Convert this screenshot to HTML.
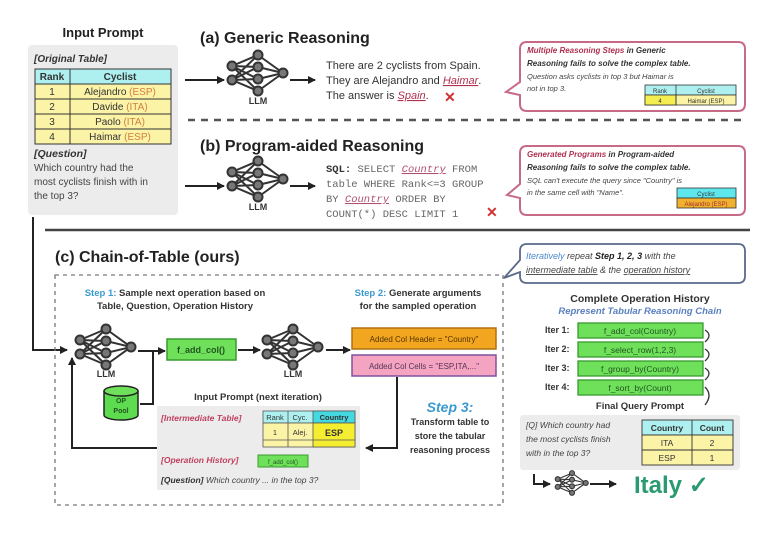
<!DOCTYPE html>
<html><head><meta charset="utf-8"><style>
html,body{margin:0;padding:0;background:#fff;}
svg{display:block;font-family:"Liberation Sans",sans-serif;}
</style></head><body>
<svg width="784" height="537" viewBox="0 0 784 537" xmlns="http://www.w3.org/2000/svg">
<defs>
<marker id="ar" markerWidth="8" markerHeight="8" refX="7" refY="4" orient="auto" markerUnits="userSpaceOnUse"><path d="M0,0 L8,4 L0,8 z" fill="#222"/></marker>
<g id="llm" stroke="#333" stroke-width="2" fill="none">
<path d="M-26,-7 L0,-18 M-26,-7 L0,-6 M-26,-7 L0,6 M-26,-7 L0,18 M-26,7 L0,-18 M-26,7 L0,-6 M-26,7 L0,6 M-26,7 L0,18 M0,-18 L25,0 M0,-6 L25,0 M0,6 L25,0 M0,18 L25,0"/>
<g fill="#777"><circle cx="-26" cy="-7" r="4.5"/><circle cx="-26" cy="7" r="4.5"/><circle cx="0" cy="-18" r="4.5"/><circle cx="0" cy="-6" r="4.5"/><circle cx="0" cy="6" r="4.5"/><circle cx="0" cy="18" r="4.5"/><circle cx="25" cy="0" r="4.5"/></g>
</g>
</defs>

<!-- Input prompt -->
<text x="103" y="37" font-size="13" font-weight="bold" text-anchor="middle" fill="#222">Input Prompt</text>
<rect x="28" y="45" width="150" height="170" rx="4" fill="#ececec"/>
<text x="34" y="62" font-size="10" font-weight="bold" font-style="italic" fill="#333">[Original Table]</text>
<g stroke="#333" stroke-width="1">
<rect x="35" y="69" width="136" height="15" fill="#aef0f0"/>
<rect x="35" y="84" width="136" height="60" fill="#fbf3a6"/>
<line x1="70" y1="69" x2="70" y2="144"/>
<line x1="35" y1="99" x2="171" y2="99"/><line x1="35" y1="114" x2="171" y2="114"/><line x1="35" y1="129" x2="171" y2="129"/>
</g>
<g font-size="10" text-anchor="middle" fill="#333">
<text x="52" y="80" font-weight="bold">Rank</text><text x="120" y="80" font-weight="bold">Cyclist</text>
<text x="52" y="95">1</text><text x="120" y="95">Alejandro <tspan fill="#d08040">(ESP)</tspan></text>
<text x="52" y="110">2</text><text x="120" y="110">Davide <tspan fill="#d08040">(ITA)</tspan></text>
<text x="52" y="125">3</text><text x="120" y="125">Paolo <tspan fill="#d08040">(ITA)</tspan></text>
<text x="52" y="140">4</text><text x="120" y="140">Haimar <tspan fill="#d08040">(ESP)</tspan></text>
</g>
<text x="34" y="157" font-size="10.5" font-weight="bold" font-style="italic" fill="#333">[Question]</text>
<g font-size="10" fill="#444"><text x="34" y="171">Which country had the</text><text x="34" y="185">most cyclists finish with in</text><text x="34" y="199">the top 3?</text></g>

<!-- (a) -->
<text x="200" y="43" font-size="16" font-weight="bold" fill="#222">(a) Generic Reasoning</text>
<line x1="185" y1="80" x2="224" y2="80" stroke="#222" stroke-width="2" marker-end="url(#ar)"/>
<use href="#llm" x="258" y="73"/>
<text x="258" y="104" font-size="9" font-weight="bold" text-anchor="middle" fill="#333">LLM</text>
<line x1="290" y1="80" x2="315" y2="80" stroke="#222" stroke-width="2" marker-end="url(#ar)"/>
<g font-size="11" fill="#333"><text x="326" y="69">There are 2 cyclists from Spain.</text><text x="326" y="84">They are Alejandro and <tspan fill="#b03050" text-decoration="underline" font-style="italic">Haimar</tspan>.</text><text x="326" y="99">The answer is <tspan fill="#b03050" text-decoration="underline" font-style="italic">Spain</tspan>.</text></g>
<text x="444" y="102" font-size="14" font-weight="bold" fill="#d03030">✕</text>
<path d="M527,42 H738 Q745,42 745,49 V104 Q745,111 738,111 H527 Q520,111 520,104 V95 L506,92 L520,82 V49 Q520,42 527,42 Z" fill="#fff" stroke="#c76a86" stroke-width="2"/>
<g font-size="8" font-style="italic" font-weight="bold"><text x="527" y="53"><tspan fill="#b03050">Multiple Reasoning Steps</tspan> <tspan fill="#333">in Generic</tspan></text><text x="527" y="66" fill="#333">Reasoning fails to solve the complex table.</text></g>
<g font-size="7.5" font-style="italic" fill="#444"><text x="527" y="79">Question asks cyclists in top 3 but Haimar is</text><text x="527" y="91">not in top 3.</text></g>
<g stroke="#333" stroke-width="0.8"><rect x="645" y="85" width="91" height="10" fill="#aef0f0"/><rect x="645" y="95" width="91" height="10" fill="#fbf3a6"/><rect x="645" y="95" width="31" height="10" fill="#f5ee50"/><line x1="676" y1="85" x2="676" y2="105"/></g>
<g font-size="6" text-anchor="middle" fill="#333"><text x="660" y="93">Rank</text><text x="706" y="93">Cyclist</text><text x="660" y="103">4</text><text x="706" y="103">Haimar (ESP)</text></g>

<line x1="188" y1="120" x2="745" y2="120" stroke="#555" stroke-width="2.5" stroke-dasharray="7,6"/>

<!-- (b) -->
<text x="200" y="151" font-size="16" font-weight="bold" fill="#222">(b) Program-aided Reasoning</text>
<line x1="185" y1="186" x2="224" y2="186" stroke="#222" stroke-width="2" marker-end="url(#ar)"/>
<use href="#llm" x="258" y="179"/>
<text x="258" y="210" font-size="9" font-weight="bold" text-anchor="middle" fill="#333">LLM</text>
<line x1="290" y1="186" x2="315" y2="186" stroke="#222" stroke-width="2" marker-end="url(#ar)"/>
<g font-family="Liberation Mono,monospace" font-size="10.5" fill="#666"><text x="326" y="172"><tspan font-weight="bold" fill="#333">SQL:</tspan> SELECT <tspan fill="#b05070" text-decoration="underline" font-style="italic">Country</tspan> FROM</text><text x="326" y="187">table WHERE Rank&lt;=3 GROUP</text><text x="326" y="202">BY <tspan fill="#b05070" text-decoration="underline" font-style="italic">Country</tspan> ORDER BY</text><text x="326" y="217">COUNT(*) DESC LIMIT 1</text></g>
<text x="486" y="217" font-size="14" font-weight="bold" fill="#d03030">✕</text>
<path d="M527,146 H738 Q745,146 745,153 V208 Q745,215 738,215 H527 Q520,215 520,208 V198 L507,195 L520,184 V153 Q520,146 527,146 Z" fill="#fff" stroke="#c76a86" stroke-width="2"/>
<g font-size="8" font-style="italic" font-weight="bold"><text x="527" y="157"><tspan fill="#b03050">Generated Programs</tspan> <tspan fill="#333">in Program-aided</tspan></text><text x="527" y="170" fill="#333">Reasoning fails to solve the complex table.</text></g>
<g font-size="7.5" font-style="italic" fill="#444"><text x="527" y="183">SQL can't execute the query since "Country" is</text><text x="527" y="195">in the same cell with "Name".</text></g>
<g stroke="#333" stroke-width="0.8"><rect x="677" y="188" width="59" height="10" fill="#5ee8ee"/><rect x="677" y="198" width="59" height="10" fill="#f0b030"/></g>
<g font-size="6" text-anchor="middle" fill="#333"><text x="706" y="196">Cyclist</text><text x="706" y="206" fill="#a03030">Alejandro (ESP)</text></g>

<line x1="45" y1="230" x2="750" y2="230" stroke="#444" stroke-width="2.5"/>
<path d="M33,217 V350 H67" fill="none" stroke="#222" stroke-width="2" marker-end="url(#ar)"/>

<!-- (c) -->
<text x="55" y="262" font-size="16" font-weight="bold" fill="#222">(c) Chain-of-Table (ours)</text>
<rect x="55" y="275" width="448" height="230" fill="none" stroke="#777" stroke-width="1.3" stroke-dasharray="4,4"/>
<g font-size="9.5" font-weight="bold" fill="#333" text-anchor="middle"><text x="175" y="296"><tspan fill="#3a9ad0">Step 1:</tspan> Sample next operation based on</text><text x="175" y="309">Table, Question, Operation History</text>
<text x="418" y="296"><tspan fill="#3a9ad0">Step 2:</tspan> Generate arguments</text><text x="418" y="309">for the sampled operation</text></g>
<use href="#llm" x="106" y="347"/>
<text x="106" y="377" font-size="9" font-weight="bold" text-anchor="middle" fill="#333">LLM</text>
<path d="M138,351 H165" stroke="#222" stroke-width="2" fill="none" marker-end="url(#ar)"/>
<path d="M140,404 H153 V351" stroke="#222" stroke-width="2" fill="none"/>
<rect x="167" y="339" width="69" height="21" fill="#6ee05a" stroke="#3a9a30" stroke-width="1.5"/>
<text x="201" y="353" font-size="9" font-weight="bold" text-anchor="middle" fill="#225522">f_add_col()</text>
<line x1="238" y1="350" x2="260" y2="350" stroke="#222" stroke-width="2" marker-end="url(#ar)"/>
<use href="#llm" x="293" y="347"/>
<text x="293" y="377" font-size="9" font-weight="bold" text-anchor="middle" fill="#333">LLM</text>
<line x1="326" y1="350" x2="350" y2="350" stroke="#222" stroke-width="2" marker-end="url(#ar)"/>
<rect x="352" y="328" width="144" height="21" fill="#f2a620" stroke="#b07010" stroke-width="1.5"/>
<text x="424" y="342" font-size="8" text-anchor="middle" fill="#553300">Added Col Header = "Country"</text>
<rect x="352" y="355" width="144" height="21" fill="#f4a4c0" stroke="#8050a0" stroke-width="1.5"/>
<text x="424" y="369" font-size="8" text-anchor="middle" fill="#553355">Added Col Cells = "ESP,ITA,..."</text>
<!-- OP pool -->
<path d="M104,391 V415 A17,5 0 0 0 138,415 V391" fill="#5edc50" stroke="#222" stroke-width="1.5"/>
<ellipse cx="121" cy="391" rx="17" ry="5" fill="#6ee05a" stroke="#222" stroke-width="1.5"/>
<g font-size="7" font-weight="bold" text-anchor="middle" fill="#225522"><text x="121" y="403">OP</text><text x="121" y="413">Pool</text></g>

<text x="258" y="400" font-size="9.5" font-weight="bold" text-anchor="middle" fill="#333">Input Prompt (next iteration)</text>
<rect x="157" y="406" width="203" height="84" fill="#ececec"/>
<text x="161" y="421" font-size="8.5" font-weight="bold" font-style="italic" fill="#c04060">[Intermediate Table]</text>
<g stroke="#555" stroke-width="0.8"><rect x="263" y="411" width="92" height="12" fill="#aef0f0"/><rect x="313" y="411" width="42" height="12" fill="#44d8e0"/><rect x="263" y="423" width="92" height="24" fill="#fbf3a6"/><rect x="313" y="423" width="42" height="24" fill="#f5ee30"/><line x1="288" y1="411" x2="288" y2="447"/><line x1="263" y1="440" x2="355" y2="440"/></g>
<g font-size="7.5" text-anchor="middle" fill="#333"><text x="275" y="420">Rank</text><text x="300" y="420">Cyc.</text><text x="334" y="420" font-weight="bold">Country</text><text x="275" y="435">1</text><text x="300" y="435">Alej.</text><text x="334" y="436" font-weight="bold" font-size="9">ESP</text></g>
<text x="161" y="463" font-size="8.5" font-weight="bold" font-style="italic" fill="#c04060">[Operation History]</text>
<rect x="258" y="455" width="50" height="12" fill="#6ee05a" stroke="#3a9a30"/>
<text x="283" y="464" font-size="6" text-anchor="middle" fill="#225522">f_add_col()</text>
<text x="161" y="483" font-size="8.5" font-style="italic" fill="#444"><tspan font-weight="bold" fill="#333">[Question]</tspan> Which country ... in the top 3?</text>
<path d="M397,377 V448 H366" stroke="#222" stroke-width="2" fill="none" marker-end="url(#ar)"/>
<path d="M157,448 H72 V358" stroke="#222" stroke-width="2" fill="none" marker-end="url(#ar)"/>
<text x="450" y="412" font-size="14" font-weight="bold" font-style="italic" text-anchor="middle" fill="#3a9ad0">Step 3:</text>
<g font-size="9" font-weight="bold" text-anchor="middle" fill="#333"><text x="450" y="425">Transform table to</text><text x="450" y="439">store the tabular</text><text x="450" y="453">reasoning process</text></g>

<!-- Right side -->
<path d="M527,244 H738 Q745,244 745,251 V276 Q745,283 738,283 H527 Q520,283 520,276 V272 L504,278 L520,260 V251 Q520,244 527,244 Z" fill="#fff" stroke="#5a6a8a" stroke-width="1.8"/>
<g font-size="9" font-style="italic" fill="#444"><text x="526" y="259"><tspan fill="#4a8ad0">Iteratively</tspan> repeat <tspan font-weight="bold" fill="#222">Step 1, 2, 3</tspan> with the</text><text x="526" y="273"><tspan text-decoration="underline">intermediate table</tspan> &amp; the <tspan text-decoration="underline">operation history</tspan></text></g>
<text x="640" y="302" font-size="10.5" font-weight="bold" text-anchor="middle" fill="#333">Complete Operation History</text>
<text x="640" y="314" font-size="9.5" font-weight="bold" font-style="italic" text-anchor="middle" fill="#5a80c0">Represent Tabular Reasoning Chain</text>
<g font-size="9" font-weight="bold" fill="#333"><text x="545" y="333">Iter 1:</text><text x="545" y="352">Iter 2:</text><text x="545" y="371">Iter 3:</text><text x="545" y="390">Iter 4:</text></g>
<g fill="#6ee05a" stroke="#3a9a30" stroke-width="1.3"><rect x="578" y="323" width="125" height="15"/><rect x="578" y="342" width="125" height="15"/><rect x="578" y="361" width="125" height="15"/><rect x="578" y="380" width="125" height="15"/></g>
<g font-size="8.5" text-anchor="middle" fill="#225522"><text x="640" y="334">f_add_col(Country)</text><text x="640" y="353">f_select_row(1,2,3)</text><text x="640" y="372">f_group_by(Country)</text><text x="640" y="391">f_sort_by(Count)</text></g>
<path d="M705,330 q8,5 0,12 M705,349 q8,5 0,12 M705,368 q8,5 0,12 M705,387 q8,8 0,18" stroke="#333" stroke-width="1.3" fill="none"/>
<text x="640" y="409" font-size="9.5" font-weight="bold" text-anchor="middle" fill="#333">Final Query Prompt</text>
<rect x="520" y="415" width="220" height="55" rx="3" fill="#ececec"/>
<g font-size="8.5" font-style="italic" fill="#444"><text x="526" y="428">[Q] Which country had</text><text x="526" y="442">the most cyclists finish</text><text x="526" y="456">with in the top 3?</text></g>
<g stroke="#333" stroke-width="0.9"><rect x="642" y="420" width="91" height="15" fill="#aef0f0"/><rect x="642" y="435" width="91" height="30" fill="#fbf3a6"/><line x1="692" y1="420" x2="692" y2="465"/><line x1="642" y1="450" x2="733" y2="450"/></g>
<g font-size="8.5" text-anchor="middle" fill="#333"><text x="667" y="431" font-weight="bold">Country</text><text x="712" y="431" font-weight="bold">Count</text><text x="667" y="446">ITA</text><text x="712" y="446">2</text><text x="667" y="461">ESP</text><text x="712" y="461">1</text></g>
<path d="M534,474 V484 H550" stroke="#222" stroke-width="2" fill="none" marker-end="url(#ar)"/>
<g transform="translate(572,483) scale(0.55)"><use href="#llm"/></g>
<line x1="590" y1="484" x2="616" y2="484" stroke="#222" stroke-width="2" marker-end="url(#ar)"/>
<text x="634" y="493" font-size="24" font-weight="bold" fill="#2a9a70">Italy ✓</text>
</svg>
</body></html>
